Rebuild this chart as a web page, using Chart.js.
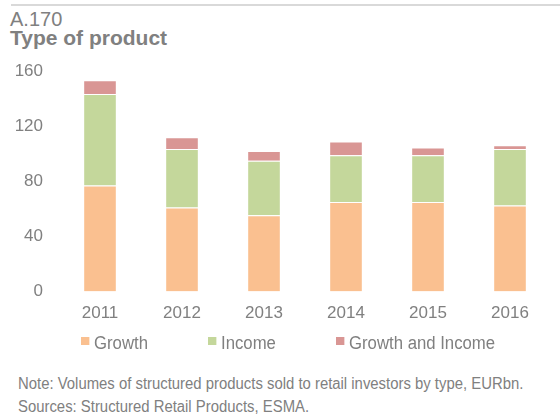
<!DOCTYPE html>
<html>
<head>
<meta charset="utf-8">
<script src="https://cdn.jsdelivr.net/npm/chart.js@4"></script>
<style>
    body { margin: 0; background: #fff; }
    #wrap { position: relative; width: 560px; height: 414px; overflow: hidden; font-family: "Liberation Sans", Arial, sans-serif; color: #808080; }
    #rule { position: absolute; left: 11px; right: 0; top: 4px; height: 2px; background: #d9d9d9; }
    #code { position: absolute; left: 10px; top: 8px; font-size: 20px; }
    #title { position: absolute; left: 10px; top: 26px; font-size: 21px; font-weight: bold; }
    #chartBox { position: absolute; left: 0; top: 45px; width: 560px; height: 291px; }
    #legend { position: absolute; left: 81px; top: 332px; display: flex; gap: 55px; font-size: 18px; line-height: 22px; }
    #legend .item { display: flex; align-items: center; transform: scaleX(0.93); transform-origin: left center; }
    #legend .box { width: 9px; height: 8px; margin-right: 5px; margin-top: -4px; }
    #note { position: absolute; left: 18px; top: 372px; font-size: 16px; line-height: 23px; white-space: nowrap; transform: scaleX(0.93); transform-origin: left top; }
</style>
</head>
<body>
<div id="wrap">
    <div id="rule"></div>
    <div id="code">A.170</div>
    <div id="title">Type of product</div>
    <div id="chartBox"><canvas id="productChart"></canvas></div>
    <div id="legend"></div>
    <div id="note">Note: Volumes of structured products sold to retail investors by type, EURbn.<br>Sources: Structured Retail Products, ESMA.</div>
</div>
<script>
// structured products sold to retail investors, EURbn
var years = ['2011', '2012', '2013', '2014', '2015', '2016'];
var growth = [77, 61, 55.5, 65, 65, 62.5];
var income = [66.5, 42.5, 39.5, 34, 34, 41];
var growthAndIncome = [10, 8.5, 7, 10, 5.7, 2.7];
var yTicks = [0, 40, 80, 120, 160];

var COLORS = {
    growth: '#FAC090',
    income: '#C4D79B',
    both: '#D99694',
    text: '#808080'
};

var tickFont = { family: '"Liberation Sans", Arial, sans-serif', size: 17 };

var ctx = document.getElementById('productChart');
var myChart = new Chart(ctx, {
    type: 'bar',
    data: {
        labels: years,
        datasets: [{
            label: 'Growth',
            data: growth,
            backgroundColor: COLORS.growth
        }, {
            label: 'Income',
            data: income,
            backgroundColor: COLORS.income
        }, {
            label: 'Growth and Income',
            data: growthAndIncome,
            backgroundColor: COLORS.both
        }]
    },
    options: {
        responsive: true,
        maintainAspectRatio: false,
        animation: false,
        datasets: {
            bar: {
                categoryPercentage: 1,
                barPercentage: 0.41,
                borderColor: 'rgba(255,255,255,0.5)',
                borderWidth: 1
            }
        },
        layout: {
            padding: { top: 0, right: 9, left: 0, bottom: 0 }
        },
        plugins: {
            tooltip: { enabled: false },
            legend: { display: false }
        },
        scales: {
            x: {
                stacked: true,
                grid: { display: false, drawTicks: false },
                border: { display: false },
                ticks: { color: COLORS.text, font: tickFont, padding: 12 }
            },
            y: {
                stacked: true,
                min: 0,
                max: 160,
                grid: { display: false, drawTicks: false },
                border: { display: false },
                afterBuildTicks: function(scale) {
                    scale.ticks = yTicks.map(function(v) { return { value: v }; });
                },
                afterFit: function(scale) {
                    scale.width = 59;
                },
                ticks: { color: COLORS.text, font: tickFont, padding: 16, autoSkip: false }
            }
        }
    }
});

// legend built from the chart's own datasets
var legendDiv = document.getElementById('legend');
myChart.data.datasets.forEach(function(ds) {
    legendDiv.innerHTML += "<span class='item'><span class='box' style='background:" + ds.backgroundColor + "'></span>" + ds.label + "</span>";
});
</script>
</body>
</html>
